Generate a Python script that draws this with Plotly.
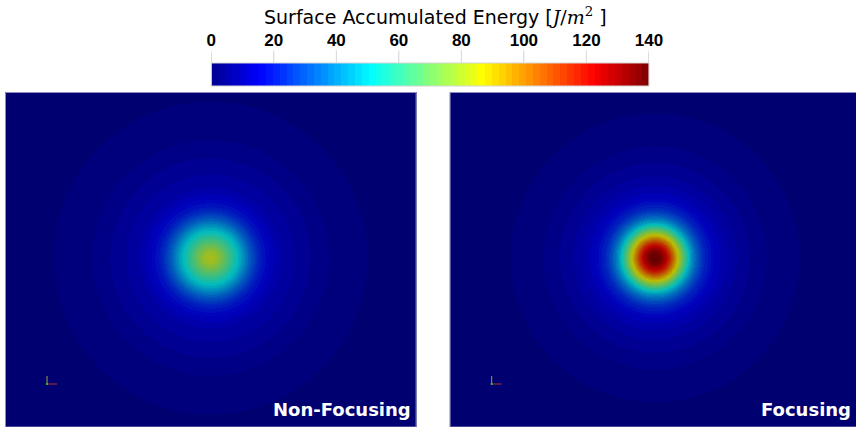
import numpy as np
import plotly.graph_objects as go

# Radial profiles of surface accumulated energy [J/m^2] versus distance from the spot centre
radius_nonfocus = [0, 5, 10, 15, 20, 25, 30, 35, 40, 45, 50, 60, 70, 85, 100, 117, 135, 155, 175, 200, 250, 300]
energy_nonfocus = [82, 80, 74, 67, 60, 53, 46, 38, 31, 25, 20, 14.5, 11, 8.5, 6.5, 4.4, 3.3, 2.2, 1.5, 0.8, 0.3, 0.1]

radius_focus = [0, 5, 10, 15, 20, 25, 30, 35, 40, 45, 50, 60, 70, 85, 100, 111, 125, 143, 165, 200, 250, 300]
energy_focus = [140, 137, 128, 114, 97, 79, 62, 47, 36, 28, 22, 15, 11.5, 8, 5.8, 4.4, 3.2, 2.2, 1.4, 0.7, 0.3, 0.1]

panel_titles = ["Non-Focusing", "Focusing"]
cbar_ticks = [0, 20, 40, 60, 80, 100, 120, 140]
e_min, e_max = 0, 140
n_bands = 64

W, H = 880, 427
X_SHIFT, X_SCALE = 5.0, 0.977  # horizontal layout calibration of the page

# Jet colour map (ParaView preset) as (t, r, g, b)
jet_pts = [(0.0, 0, 0, 0.5625), (0.1111, 0, 0, 1), (0.3651, 0, 1, 1),
           (0.4921, 0.5, 1, 0.5), (0.6190, 1, 1, 0), (0.8730, 1, 0, 0), (1.0, 0.5, 0, 0)]


def jet(t):
    ts = [p[0] for p in jet_pts]
    return [float(np.interp(t, ts, [p[i] for p in jet_pts])) for i in (1, 2, 3)]


def banded_scale(shade):
    scale = []
    for k in range(n_bands):
        r, g, b = jet((k + 0.5) / n_bands)
        c = f"rgb({round(r*255*shade)},{round(g*255*shade)},{round(b*255*shade)})"
        scale.append([k / n_bands, c])
        scale.append([(k + 1) / n_bands, c])
    return scale


def field(xs, ys, radius, energy):
    X, Y = np.meshgrid(xs, ys)
    R = np.hypot(X, Y)
    return np.round(np.interp(R, radius, energy), 1)


def px_x(x):
    return min(max((x - X_SHIFT) / X_SCALE / W, 0.0), 1.0)


def px_y(y):
    return 1 - y / H


lit_scale = banded_scale(0.74)
bar_scale = banded_scale(1.0)

fig = go.Figure()

# Panels: (left edge, right edge, centre x) in pixels; top 92, bottom 427, centre y 258
panels = [(5, 416, 210, radius_nonfocus, energy_nonfocus),
          (449, 856, 654, radius_focus, energy_focus)]
label_right = [412, 852]
top, bottom, cy = 92, 427, 258

for i, (x0, x1, cx, rad, en) in enumerate(panels):
    xs = np.arange(x0 - cx, x1 - cx) + 0.5
    ys = np.arange(-(bottom - cy), cy - top) + 0.5
    z = field(xs, ys, rad, en)
    ax = "" if i == 0 else str(i + 1)
    fig.add_trace(go.Heatmap(x=xs, y=ys, z=z, colorscale=lit_scale, zmin=e_min, zmax=e_max,
                             showscale=False, xaxis="x" + ax, yaxis="y" + ax, hoverinfo="skip"))
    fig.layout["xaxis" + ax] = dict(domain=[px_x(x0), px_x(x1)], range=[x0 - cx, x1 - cx],
                                    visible=False, fixedrange=True, anchor="y" + ax)
    fig.layout["yaxis" + ax] = dict(domain=[px_y(bottom), px_y(top)], range=[-(bottom - cy), cy - top],
                                    visible=False, fixedrange=True, anchor="x" + ax)
    fig.add_shape(type="rect", xref="paper", yref="paper",
                  x0=px_x(x0 + 0.5), x1=px_x(x1 - 0.5), y0=px_y(bottom), y1=px_y(top + 0.5),
                  line=dict(color="#8c8cc0", width=1), fillcolor="rgba(0,0,0,0)", layer="above")
    fig.add_annotation(text=f"<b>{panel_titles[i]}</b>", xref="paper", yref="paper",
                       x=px_x(label_right[i]), y=px_y(409), xanchor="right", yanchor="middle",
                       showarrow=False, font=dict(family="DejaVu Sans", size=18, color="white"))
    # small orientation triad in the lower-left corner
    tx = x0 + 42
    fig.add_shape(type="line", xref="paper", yref="paper", x0=px_x(tx), x1=px_x(tx + 10),
                  y0=px_y(384), y1=px_y(384), line=dict(color="#b03030", width=1))
    fig.add_shape(type="line", xref="paper", yref="paper", x0=px_x(tx), x1=px_x(tx),
                  y0=px_y(384), y1=px_y(376), line=dict(color="#a0a040", width=1))
    fig.add_shape(type="rect", xref="paper", yref="paper", x0=px_x(tx - 1), x1=px_x(tx + 1),
                  y0=px_y(385), y1=px_y(383), line=dict(width=0), fillcolor="#40b040")

# Colour bar drawn as a banded strip
bar_x0, bar_x1, bar_y0, bar_y1 = 211, 648, 63, 86
band_vals = [(k + 0.5) * (e_max - e_min) / n_bands for k in range(n_bands)]
fig.add_trace(go.Heatmap(x=band_vals, y=[0], z=[band_vals], colorscale=bar_scale, zmin=e_min, zmax=e_max,
                         showscale=False, xaxis="x3", yaxis="y3", hoverinfo="skip"))
fig.layout["xaxis3"] = dict(domain=[px_x(bar_x0), px_x(bar_x1)], range=[e_min, e_max], anchor="y3",
                            side="top", tickvals=cbar_ticks, ticktext=[f"<b>{v}</b>" for v in cbar_ticks],
                            ticks="outside", ticklen=9, tickcolor="#dcdcdc", tickwidth=1,
                            showgrid=False, zeroline=False, showline=False, fixedrange=True,
                            tickfont=dict(family="Liberation Sans", size=17, color="black"))
fig.layout["yaxis3"] = dict(domain=[px_y(bar_y1), px_y(bar_y0)], range=[-0.5, 0.5], anchor="x3",
                            visible=False, fixedrange=True)
for v in cbar_ticks:
    fig.add_shape(type="line", xref="x3", yref="paper", x0=v, x1=v, y0=px_y(bar_y0), y1=px_y(50),
                  line=dict(color="#dcdcdc", width=1))
fig.add_shape(type="rect", xref="paper", yref="paper", x0=px_x(bar_x0), x1=px_x(bar_x1),
              y0=px_y(bar_y1), y1=px_y(bar_y0), line=dict(color="#d4d4d4", width=1),
              fillcolor="rgba(0,0,0,0)", layer="above")

fig.add_annotation(text="Surface Accumulated Energy [<span style=\"font-family:'DejaVu Serif'\"><i>J</i>/<i>m</i><sup>2</sup></span> ]",
                   xref="paper", yref="paper", x=px_x(435), y=px_y(16), xanchor="center", yanchor="middle",
                   showarrow=False, font=dict(family="DejaVu Sans", size=19, color="black"))

fig.update_layout(width=W, height=H, autosize=False, margin=dict(l=0, r=0, t=0, b=0),
                  paper_bgcolor="white", plot_bgcolor="white", showlegend=False)

fig.write_html("out.html", config={"responsive": False})
